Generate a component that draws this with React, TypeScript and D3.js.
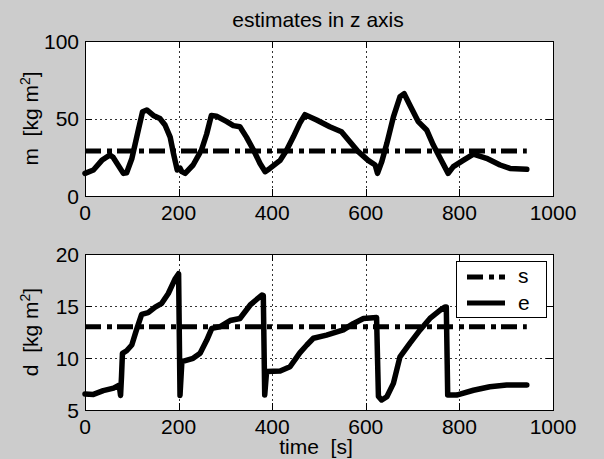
import React from 'react';
import * as d3 from 'd3';

// time samples (s) and values
const mTime = [0, 18, 36, 53, 60, 82, 89, 100, 114, 123, 132, 146, 160, 171, 182, 189, 197, 203, 207, 214, 231, 249, 260, 270, 281, 303, 317, 331, 345, 360, 374, 385, 395, 417, 431, 445, 459, 470, 495, 523, 548, 566, 584, 605, 620, 625, 634, 645, 659, 673, 682, 694, 712, 730, 744, 759, 776, 787, 808, 830, 858, 887, 908, 944];
const mValues = [14.6, 16.8, 23, 26.5, 25, 14.6, 15, 24, 42.6, 54.4, 55.5, 52, 50, 45.8, 38, 27.5, 16.8, 18, 15.7, 14.6, 20, 29.7, 40, 52, 51.5, 48, 45.4, 44.7, 38, 29.7, 21, 15.7, 17.8, 23, 29.7, 38, 47, 52.5, 49, 44.7, 41.5, 35, 28.6, 23, 20, 14.6, 22, 34, 51, 64, 66, 58.7, 48, 42.6, 33, 24.3, 14.6, 19, 23, 27, 24.3, 20, 17.8, 17.2];

const dTime = [0, 18, 39, 61, 73, 76, 78, 80, 89, 100, 110, 121, 135, 150, 164, 178, 192, 200, 203, 207, 231, 246, 260, 271, 288, 310, 331, 353, 378, 381, 384, 388, 417, 438, 459, 474, 488, 516, 552, 573, 595, 623, 627, 634, 645, 659, 673, 694, 716, 737, 759, 769, 772, 775, 794, 830, 865, 901, 944];
const dValues = [6.54, 6.5, 6.86, 7.1, 7.4, 6.4, 8.2, 10.45, 10.7, 11.25, 12.7, 14.2, 14.36, 14.9, 15.26, 16.2, 17.56, 18.1, 6.4, 9.65, 9.97, 10.45, 11.7, 12.85, 13.0, 13.6, 13.8, 15.1, 16.06, 16.0, 6.44, 8.7, 8.75, 9.16, 10.5, 11.25, 11.9, 12.2, 12.7, 13.3, 13.8, 13.9, 6.3, 5.96, 6.28, 7.56, 10.1, 11.4, 12.7, 13.8, 14.6, 14.9, 14.9, 6.44, 6.44, 6.9, 7.24, 7.4, 7.4];

const sTime = [0, 944];
const mRef = 29;
const dRef = 13;

const xTicks = [0, 200, 400, 600, 800, 1000];
const mTicks = [0, 50, 100];
const dTicks = [5, 10, 15, 20];

const W = 604;
const H = 459;
const left = 85;
const right = 553;
const font = 'Arial, "Liberation Sans", sans-serif';
const dashDot = '16,6,5,5';

type PanelProps = {
  top: number;
  bottom: number;
  domain: [number, number];
  ticks: number[];
  time: number[];
  values: number[];
  refValue: number;
  label: string;
  legend?: boolean;
};

const Panel = ({ top, bottom, domain, ticks, time, values, refValue, label, legend }: PanelProps) => {
  const x = d3.scaleLinear().domain([0, 1000]).range([left, right]);
  const y = d3.scaleLinear().domain(domain).range([bottom, top]);
  const line = d3
    .line<number>()
    .x((_, i) => x(time[i]))
    .y((v) => y(v));
  const refLine = d3
    .line<number>()
    .x((t) => x(t))
    .y(() => y(refValue));
  const inner = (arr: number[]) => arr.slice(1, -1);
  const mid = (top + bottom) / 2;

  return (
    <g>
      <rect x={left} y={top} width={right - left} height={bottom - top} fill="#fff" />
      {/* grid */}
      <g stroke="#333" strokeWidth={1} strokeDasharray="2,3" shapeRendering="crispEdges">
        {inner(xTicks).map((t) => (
          <line key={'gx' + t} x1={Math.round(x(t)) + 0.5} x2={Math.round(x(t)) + 0.5} y1={top} y2={bottom} />
        ))}
        {inner(ticks).map((t) => (
          <line key={'gy' + t} x1={left} x2={right} y1={Math.round(y(t)) + 0.5} y2={Math.round(y(t)) + 0.5} />
        ))}
      </g>
      {/* ticks */}
      <g stroke="#000" strokeWidth={1} shapeRendering="crispEdges">
        {xTicks.map((t) => {
          const px = Math.round(x(t)) + 0.5;
          return (
            <g key={'tx' + t}>
              <line x1={px} x2={px} y1={bottom} y2={bottom - 7} />
              <line x1={px} x2={px} y1={top} y2={top + 7} />
            </g>
          );
        })}
        {ticks.map((t) => {
          const py = Math.round(y(t)) + 0.5;
          return (
            <g key={'ty' + t}>
              <line x1={left} x2={left + 7} y1={py} y2={py} />
              <line x1={right} x2={right - 7} y1={py} y2={py} />
            </g>
          );
        })}
      </g>
      {/* data */}
      <path d={refLine(sTime) ?? ''} fill="none" stroke="#000" strokeWidth={5} strokeDasharray={dashDot} />
      <path
        d={line(values) ?? ''}
        fill="none"
        stroke="#000"
        strokeWidth={5.5}
        strokeLinejoin="round"
        strokeLinecap="round"
      />
      <rect x={left + 0.5} y={top + 0.5} width={right - left} height={bottom - top} fill="none" stroke="#000" strokeWidth={1} shapeRendering="crispEdges" />
      {/* tick labels */}
      <g fontFamily={font} fontSize={21} fill="#000">
        {xTicks.map((t) => (
          <text key={'lx' + t} x={x(t)} y={bottom + 24} textAnchor="middle">
            {t}
          </text>
        ))}
        {ticks.map((t) => (
          <text key={'ly' + t} x={79} y={y(t) + 7.5} textAnchor="end">
            {t}
          </text>
        ))}
      </g>
      <text
        transform={`translate(38,${mid}) rotate(-90)`}
        textAnchor="middle"
        fontFamily={font}
        fontSize={21}
        style={{ whiteSpace: 'pre' }}
      >
        {label + '  [kg m'}
        <tspan dy={-8} fontSize={14}>2</tspan>
        <tspan dy={8}>]</tspan>
      </text>
      {legend && (
        <g>
          <rect x={456.5} y={261.5} width={90} height={56} fill="#fff" stroke="#000" strokeWidth={1} shapeRendering="crispEdges" />
          <line x1={467} x2={505} y1={277} y2={277} stroke="#000" strokeWidth={5} strokeDasharray={dashDot} />
          <line x1={467} x2={505} y1={303} y2={303} stroke="#000" strokeWidth={5} />
          <text x={518} y={283} fontFamily={font} fontSize={21}>s</text>
          <text x={518} y={310} fontFamily={font} fontSize={21}>e</text>
        </g>
      )}
    </g>
  );
};

export default function App() {
  return (
    <svg width={W} height={H} style={{ position: 'absolute', left: 0, top: 0, display: 'block' }}>
      <rect width={W} height={H} fill="#cccccc" />
      <text x={318} y={27} textAnchor="middle" fontFamily={font} fontSize={21}>
        estimates in z axis
      </text>
      <Panel top={41} bottom={196} domain={[0, 100]} ticks={mTicks} time={mTime} values={mValues} refValue={mRef} label="m" />
      <Panel top={254} bottom={410} domain={[5, 20]} ticks={dTicks} time={dTime} values={dValues} refValue={dRef} label="d" legend />
      <text x={316} y={454} textAnchor="middle" fontFamily={font} fontSize={21} style={{ whiteSpace: 'pre' }}>
        {'time  [s]'}
      </text>
    </svg>
  );
}
